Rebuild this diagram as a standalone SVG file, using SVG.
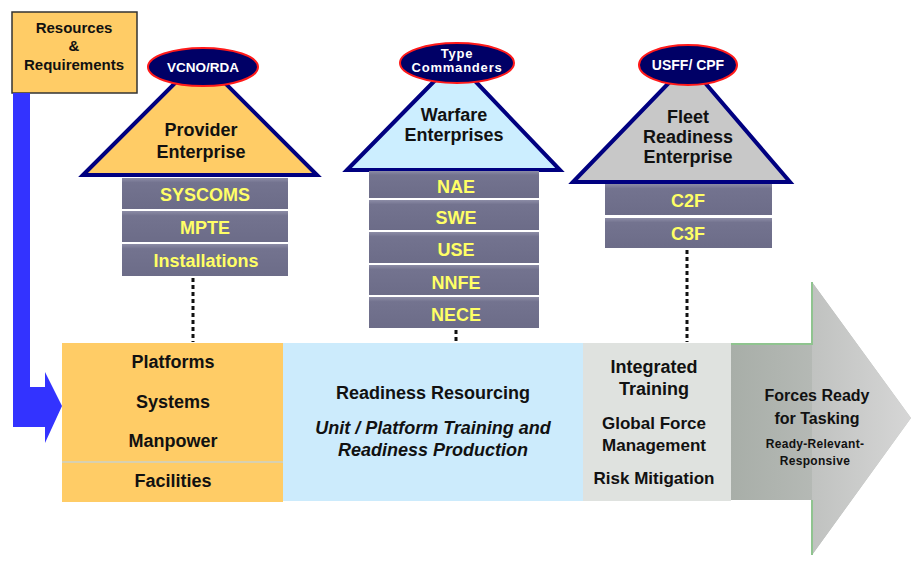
<svg xmlns="http://www.w3.org/2000/svg" width="911" height="563" viewBox="0 0 911 563">
<defs>
<linearGradient id="gTail" x1="0" y1="0" x2="1" y2="0">
<stop offset="0" stop-color="#A8AEA8"/>
<stop offset="1" stop-color="#C4C6C4"/>
</linearGradient>
<linearGradient id="gHead" x1="0" y1="0" x2="1" y2="0">
<stop offset="0" stop-color="#C0C2C0"/>
<stop offset="1" stop-color="#D6D6D6"/>
</linearGradient>
<linearGradient id="gBox" x1="0" y1="0" x2="0" y2="1">
<stop offset="0" stop-color="#8C8CA6"/>
<stop offset="0.15" stop-color="#73738F"/>
<stop offset="1" stop-color="#6C6C88"/>
</linearGradient>
</defs>
<style>
text{font-family:"Liberation Sans",Arial,sans-serif;font-weight:bold;text-anchor:middle;dominant-baseline:central}
.blk{fill:#111}
.wh{fill:#fff}
.yl{fill:#FFFF66;font-size:18px}
.box{fill:url(#gBox)}
.tri{stroke:#000080;stroke-width:4;stroke-linejoin:miter}
.ell{fill:#000066;stroke:#FF1A1A;stroke-width:2}
.dot{stroke:#111;stroke-width:3;stroke-dasharray:4 3;fill:none}
.big{font-size:18px}
</style>

<g id="flow-arrow">
<rect x="62" y="343" width="221" height="159" fill="#FFCC66"/>
<line x1="62" y1="462" x2="283" y2="462" stroke="#D8D0B0" stroke-width="2"/>
<rect x="283" y="343" width="300" height="158" fill="#CCEBFC"/>
<rect x="583" y="343" width="148" height="158" fill="#DFE2DF"/>
<path d="M731 344 H812 V282 L911 418 L812 555 V500 H731 Z" fill="url(#gTail)"/>
<path d="M812 282 L911 418 L812 555 Z" fill="url(#gHead)"/>
<path d="M731 344 H812 V282" fill="none" stroke="#8FC48F" stroke-width="2"/>
<path d="M812 500 V555" fill="none" stroke="#8FC48F" stroke-width="2"/>
<text x="173" y="362" class="blk big">Platforms</text>
<text x="173" y="402" class="blk big">Systems</text>
<text x="173" y="441" class="blk big">Manpower</text>
<text x="173" y="481" class="blk big">Facilities</text>
<text x="433" y="393" class="blk big">Readiness Resourcing</text>
<text x="433" y="428" class="blk big" font-style="italic">Unit / Platform Training and</text>
<text x="433" y="450" class="blk big" font-style="italic">Readiness Production</text>
<text x="654" y="367" class="blk big">Integrated</text>
<text x="654" y="389" class="blk big">Training</text>
<text x="654" y="423" class="blk" font-size="17">Global Force</text>
<text x="654" y="445" class="blk" font-size="17">Management</text>
<text x="654" y="478" class="blk" font-size="17">Risk Mitigation</text>
<text x="817" y="395" class="blk" font-size="16">Forces Ready</text>
<text x="817" y="418" class="blk" font-size="16">for Tasking</text>
<text x="815" y="444" class="blk" font-size="12" letter-spacing="0.3">Ready-Relevant-</text>
<text x="815" y="461" class="blk" font-size="12" letter-spacing="0.3">Responsive</text>
</g>

<g id="resources">
<rect x="12" y="12" width="125" height="81" fill="#FFCC66" stroke="#333" stroke-width="1.5"/>
<text x="74" y="27" class="blk" font-size="15">Resources</text>
<text x="74" y="45" class="blk" font-size="15">&amp;</text>
<text x="74" y="64" class="blk" font-size="15">Requirements</text>
</g>

<g id="connectors">
<path d="M13 93 H30 V387 H45 V372 L62 406 L45 443 V427 H13 Z" fill="#3333FF"/>
<line x1="193" y1="278" x2="193" y2="342" class="dot"/>
<line x1="456" y1="330" x2="456" y2="342" class="dot"/>
<line x1="687" y1="250" x2="687" y2="342" class="dot"/>
</g>

<g id="provider">
<polygon points="83,175 200,58 317,175" class="tri" fill="#FFCC66"/>
<ellipse cx="203" cy="67" rx="55" ry="19" class="ell"/>
<text x="203" y="67" class="wh" font-size="13.5">VCNO/RDA</text>
<text x="201" y="130" class="blk big">Provider</text>
<text x="201" y="152" class="blk big">Enterprise</text>
<rect x="122" y="178" width="166" height="31" class="box"/>
<rect x="122" y="211" width="166" height="31" class="box"/>
<rect x="122" y="244" width="166" height="32" class="box"/>
<text x="205" y="195" class="yl">SYSCOMS</text>
<text x="205" y="228" class="yl">MPTE</text>
<text x="206" y="261" class="yl">Installations</text>
</g>

<g id="warfare">
<polygon points="347,170 455,60 560,170" class="tri" fill="#CCEEFF"/>
<ellipse cx="457" cy="63" rx="57" ry="20" class="ell"/>
<text x="457" y="53" class="wh" font-size="13" letter-spacing="0.8">Type</text>
<text x="457" y="67" class="wh" font-size="13" letter-spacing="0.8">Commanders</text>
<text x="454" y="115" class="blk big">Warfare</text>
<text x="454" y="135" class="blk big">Enterprises</text>
<rect x="369" y="171" width="170" height="27" class="box"/>
<rect x="369" y="200" width="170" height="30" class="box"/>
<rect x="369" y="232" width="170" height="31" class="box"/>
<rect x="369" y="265" width="170" height="30" class="box"/>
<rect x="369" y="297" width="170" height="31" class="box"/>
<text x="456" y="187" class="yl">NAE</text>
<text x="456" y="218" class="yl">SWE</text>
<text x="456" y="250" class="yl">USE</text>
<text x="456" y="283" class="yl">NNFE</text>
<text x="456" y="315" class="yl">NECE</text>
</g>

<g id="fleet">
<polygon points="573,182 688,63 790,182" class="tri" fill="#C8C8C8"/>
<ellipse cx="688" cy="65" rx="49" ry="20" class="ell"/>
<text x="688" y="65" class="wh" font-size="14">USFF/ CPF</text>
<text x="688" y="117" class="blk big">Fleet</text>
<text x="688" y="137" class="blk big">Readiness</text>
<text x="688" y="157" class="blk big">Enterprise</text>
<rect x="605" y="184" width="167" height="31" class="box"/>
<rect x="605" y="218" width="167" height="30" class="box"/>
<text x="688" y="201" class="yl">C2F</text>
<text x="688" y="234" class="yl">C3F</text>
</g>
</svg>
